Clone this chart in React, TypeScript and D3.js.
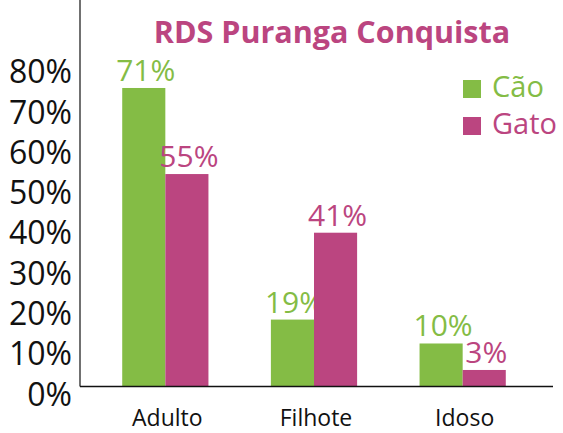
import React from "react";
import * as d3 from "d3";

const categories = ["Adulto", "Filhote", "Idoso"];
const seriesNames = ["Cão", "Gato"];
// bar lengths as drawn in the picture
const caoBars = [0.7405, 0.166, 0.1067];
const gatoBars = [0.527, 0.3815, 0.041];
// value labels printed above the bars
const caoLabels = ["71%", "19%", "10%"];
const gatoLabels = ["55%", "41%", "3%"];
const yTicks = [0, 0.1, 0.2, 0.3, 0.4, 0.5, 0.6, 0.7, 0.8];
const title = "RDS Puranga Conquista";

const W = 563;
const H = 433;
const GREEN = "#84BC45";
const PINK = "#BB4580";
const FONT = "'Open Sans', 'Noto Sans', sans-serif";

export default function App() {
  const x = d3.scaleBand<string>().domain(categories).range([91, 537]).paddingInner(0.42).paddingOuter(0.21);
  const xs = d3.scaleBand<string>().domain(seriesNames).range([0, x.bandwidth()]);
  const y = d3.scaleLinear().domain([0, 0.8]).range([386.5, 64]);
  const color = d3.scaleOrdinal<string, string>().domain(seriesNames).range([GREEN, PINK]);
  const fmt = d3.format(".0%");

  const series = [
    { name: "Cão", bars: caoBars, labels: caoLabels },
    { name: "Gato", bars: gatoBars, labels: gatoLabels },
  ];

  return (
    <svg width={W} height={H} style={{ position: "absolute", left: 0, top: 0, display: "block" }} fontFamily={FONT}>
      <rect width={W} height={H} fill="#fff" />
      <text x={332} y={43} textAnchor="middle" fontSize={30.5} fontWeight={700} fill={PINK}>
        {title}
      </text>
      {yTicks.map((t) => (
        <text key={t} x={72} y={y(t) + 8} dy="0.35em" textAnchor="end" fontSize={32} fill="#111">
          {fmt(t)}
        </text>
      ))}
      {series.map((s) =>
        categories.map((c, i) => {
          const bx = (x(c) ?? 0) + (xs(s.name) ?? 0);
          const top = y(s.bars[i]);
          return (
            <g key={s.name + c}>
              <rect x={bx} y={top} width={xs.bandwidth()} height={y(0) - top} fill={color(s.name)} />
              <text x={bx + xs.bandwidth() / 2 + 2} y={top - 7} textAnchor="middle" fontSize={30} fill={color(s.name)}>
                {s.labels[i]}
              </text>
            </g>
          );
        })
      )}
      <line x1={80} x2={80} y1={0} y2={y(0)} stroke="#111" strokeWidth={1.2} />
      <line x1={80} x2={553} y1={y(0)} y2={y(0)} stroke="#111" strokeWidth={1.5} />
      {categories.map((c) => (
        <text key={c} x={(x(c) ?? 0) + x.bandwidth() / 2 + 2} y={426} textAnchor="middle" fontSize={23} fill="#111">
          {c}
        </text>
      ))}
      {seriesNames.map((n, i) => (
        <g key={n} transform={`translate(463, ${80 + i * 37})`}>
          <rect width={18} height={18} fill={color(n)} />
          <text x={29} y={17} fontSize={29} fill={color(n)}>
            {n}
          </text>
        </g>
      ))}
    </svg>
  );
}
